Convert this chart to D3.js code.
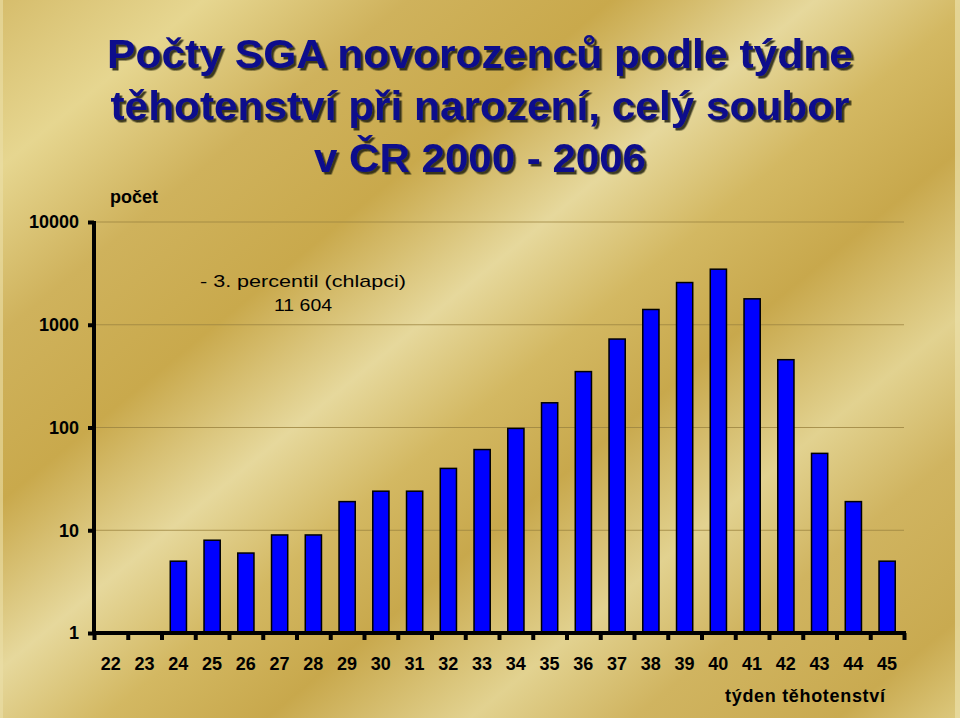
<!DOCTYPE html>
<html><head><meta charset="utf-8">
<script src="https://cdn.jsdelivr.net/npm/d3@7"></script>
<style>body{margin:0;background:#d8c070} svg{display:block}</style>
</head><body>
<script>
const weeks = [22,23,24,25,26,27,28,29,30,31,32,33,34,35,36,37,38,39,40,41,42,43,44,45];
const counts = [null,null,5,8,6,9,9,19,24,24,40,61,98,174,350,726,1408,2575,3473,1788,457,56,19,5];
const yTicks = [1,10,100,1000,10000];
const titleLines = ["Počty SGA novorozenců podle týdne","těhotenství při narození, celý soubor","v ČR 2000 - 2006"];
const yAxisTitle = "počet";
const xAxisTitle = "týden těhotenství";
const noteLines = ["- 3. percentil (chlapci)","11 604"];

const W = 960, H = 718;
const svg = d3.select("body").append("svg").attr("width", W).attr("height", H);
const defs = svg.append("defs");
const grad = defs.append("linearGradient").attr("id","gold")
  .attr("gradientUnits","userSpaceOnUse")
  .attr("x1",0).attr("y1",0).attr("x2",820).attr("y2",1000);
[[0,"#d6bd6c"],[0.1,"#e6d690"],[0.2,"#cfb25c"],[0.3,"#c9a94c"],[0.4,"#e6d89c"],[0.48,"#d3b862"],
 [0.56,"#c8a84c"],[0.66,"#e2d290"],[0.74,"#d0b460"],[0.84,"#c9aa50"],[0.93,"#e6d894"],[1,"#dcc880"]]
 .forEach(([o,c])=>grad.append("stop").attr("offset",o).attr("stop-color",c));
const shadow = defs.append("filter").attr("id","shadow").attr("x","-5%").attr("y","-20%").attr("width","110%").attr("height","140%");
shadow.append("feDropShadow").attr("dx",2.5).attr("dy",2.5).attr("stdDeviation",0.5)
  .attr("flood-color","#1c1a10").attr("flood-opacity",0.85);

svg.append("rect").attr("width",W).attr("height",H).attr("fill","url(#gold)");
svg.append("rect").attr("x",W-5).attr("width",5).attr("height",H).attr("fill","#ebe0a8").attr("opacity",0.7);
svg.append("rect").attr("x",0).attr("width",3).attr("height",H).attr("fill","#ebe0a8").attr("opacity",0.6);

const x0 = 94, x1 = 904, yTop = 222, yBot = 633;
const x = d3.scaleBand().domain(weeks).range([x0,x1]).paddingInner(0.52).paddingOuter(0.26);
const xb = d3.scaleLinear().domain([0,weeks.length]).range([x0,x1]);
const y = d3.scaleLog().domain([1,10000]).range([yBot,yTop]);

// gridlines
svg.append("g").selectAll("line").data(yTicks.filter(d=>d>1)).join("line")
  .attr("x1",x0).attr("x2",x1).attr("y1",d=>y(d)).attr("y2",d=>y(d))
  .attr("stroke","#9c8440").attr("stroke-width",1).attr("opacity",0.8);

// bars
svg.append("g").selectAll("rect").data(weeks.map((w,i)=>({w,v:counts[i]})).filter(d=>d.v))
  .join("rect")
  .attr("x",d=>x(d.w)).attr("width",x.bandwidth())
  .attr("y",d=>y(d.v)).attr("height",d=>yBot-y(d.v))
  .attr("fill","#0000ff").attr("stroke","#000").attr("stroke-width",1.5);

// y axis
const ya = svg.append("g").attr("transform",`translate(${x0},0)`)
  .call(d3.axisLeft(y).tickValues(yTicks).tickFormat(d3.format("d")).tickSize(6).tickPadding(9));
ya.select(".domain").attr("stroke","#000").attr("stroke-width",4).attr("d",`M0,${yTop-1}V${yBot}`);
ya.selectAll(".tick line").attr("stroke","#000").attr("stroke-width",4);
ya.selectAll(".tick text").attr("font-family","Liberation Sans, Arial, sans-serif")
  .attr("font-size",18).attr("font-weight","bold").attr("fill","#000");

// x axis tick marks
const xt = svg.append("g").attr("transform",`translate(0,${yBot})`)
  .call(d3.axisBottom(xb).tickValues(d3.range(weeks.length+1)).tickFormat("").tickSize(7));
xt.select(".domain").attr("stroke","#000").attr("stroke-width",4).attr("d",`M${x0-2},0H${x1+2}`);
xt.selectAll(".tick line").attr("stroke","#000").attr("stroke-width",4);

// x axis labels
const xa = svg.append("g").attr("transform",`translate(0,${yBot})`)
  .call(d3.axisBottom(x).tickSize(0).tickPadding(24));
xa.select(".domain").remove();
xa.selectAll(".tick text").attr("font-family","Liberation Sans, Arial, sans-serif")
  .attr("font-size",18).attr("font-weight","bold").attr("fill","#000");

// title
const tf = "Liberation Sans, Arial, sans-serif";
const tPos = [[68,746],[120,739],[172,332]];
titleLines.forEach((t,i)=>{
  svg.append("text").attr("x",480).attr("y",tPos[i][0]).attr("text-anchor","middle")
    .attr("font-family",tf).attr("font-size",41).attr("font-weight","bold")
    .attr("textLength",tPos[i][1]).attr("lengthAdjust","spacingAndGlyphs")
    .attr("filter","url(#shadow)")
    .attr("fill","#0b0e8c").text(t);
});

svg.append("text").attr("x",110).attr("y",203).attr("font-family",tf).attr("font-size",18)
  .attr("font-weight","bold").attr("fill","#000").text(yAxisTitle);

svg.append("text").attr("x",303).attr("y",287).attr("text-anchor","middle").attr("font-family",tf)
  .attr("font-size",17).attr("textLength",206).attr("lengthAdjust","spacingAndGlyphs")
  .attr("fill","#000").text(noteLines[0]);
svg.append("text").attr("x",303).attr("y",311).attr("text-anchor","middle").attr("font-family",tf)
  .attr("font-size",17).attr("textLength",58).attr("lengthAdjust","spacingAndGlyphs")
  .attr("fill","#000").text(noteLines[1]);

svg.append("text").attr("x",725).attr("y",702).attr("font-family",tf).attr("font-size",18)
  .attr("font-weight","bold").attr("textLength",160).attr("lengthAdjust","spacing")
  .attr("fill","#000").text(xAxisTitle);
</script>
</body></html>
